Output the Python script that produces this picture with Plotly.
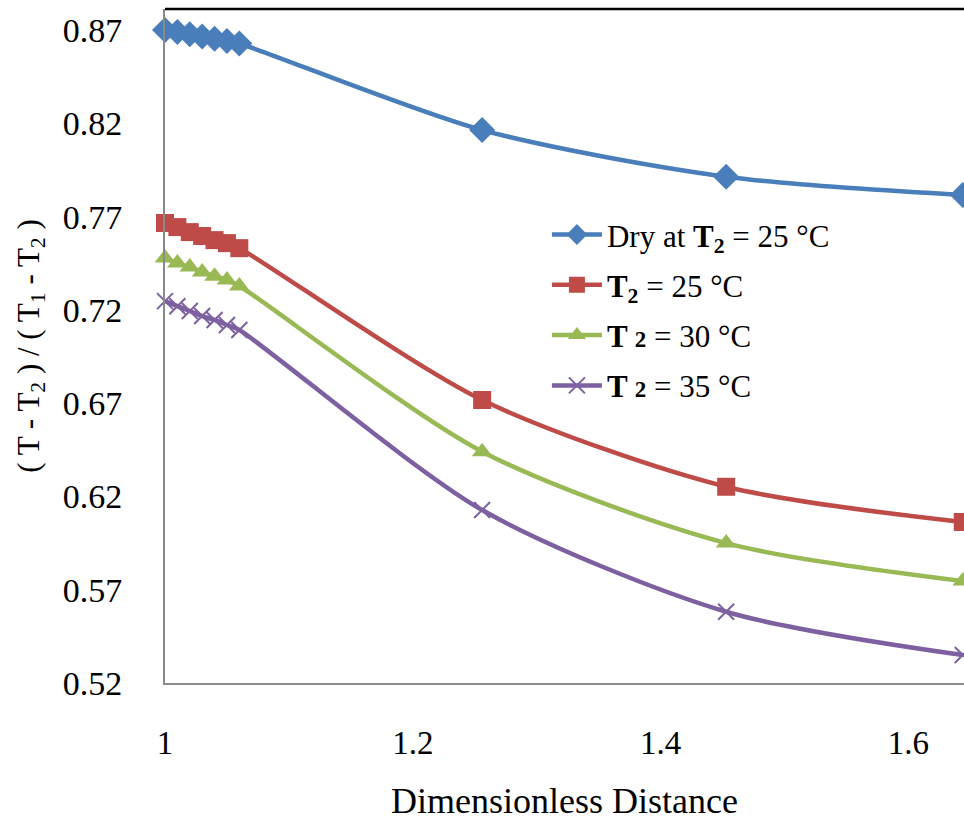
import plotly.graph_objects as go

# dimensionless distance (x) and temperature ratio for each case
x_vals = [1.00, 1.01, 1.02, 1.03, 1.04, 1.05, 1.06, 1.256, 1.453, 1.644]

dry_25 = [0.8700, 0.8690, 0.8678, 0.8666, 0.8654, 0.8642, 0.8628, 0.8164, 0.7914, 0.7816]
wet_25 = [0.7666, 0.7644, 0.7617, 0.7596, 0.7574, 0.7558, 0.7531, 0.6717, 0.6252, 0.6063]
wet_30 = [0.7478, 0.7451, 0.7430, 0.7403, 0.7381, 0.7360, 0.7328, 0.6440, 0.5950, 0.5747]
wet_35 = [0.7247, 0.7220, 0.7194, 0.7167, 0.7146, 0.7119, 0.7092, 0.6127, 0.5582, 0.5350]

names = [
    "Dry at <b>T</b><sub><b>2</b></sub> = 25 °C",
    "<b>T</b><sub><b>2</b></sub> = 25 °C",
    "<b>T <span style='font-size:23px'>2</span></b> = 30 °C",
    "<b>T <span style='font-size:23px'>2</span></b> = 35 °C",
]
colors = ["#4A7EBB", "#BE4B48", "#98B954", "#7D60A0"]
symbols = ["diamond", "square", "triangle-up", "x-thin"]
sizes = [20, 18, 18, 16]

fig = go.Figure()
for i, ys in enumerate([dry_25, wet_25, wet_30, wet_35]):
    marker = dict(symbol=symbols[i], size=sizes[i], color=colors[i])
    if symbols[i] == "x-thin":
        marker["line"] = dict(color=colors[i], width=2)
    fig.add_trace(
        go.Scatter(
            x=x_vals,
            y=ys,
            name=names[i],
            mode="lines+markers",
            line=dict(color=colors[i], width=4.5, shape="spline", smoothing=0.8),
            marker=marker,
            legendgroup=str(i),
            cliponaxis=False,
        )
    )

# black top border of the plot area
fig.add_shape(
    type="line", xref="paper", yref="paper", x0=0, x1=1, y0=1, y1=1,
    line=dict(color="black", width=2.5),
)

fig.update_layout(
    width=964,
    height=821,
    margin=dict(l=165, r=0, t=9, b=138),
    paper_bgcolor="white",
    plot_bgcolor="white",
    font=dict(family="Liberation Serif", color="black", size=32),
    legend=dict(
        x=0.478,
        y=0.705,
        xanchor="left",
        yanchor="top",
        bgcolor="rgba(0,0,0,0)",
        font=dict(size=31, family="Liberation Serif", color="black"),
        tracegroupgap=7,
        itemwidth=50,
    ),
)
fig.update_xaxes(
    range=[1, 1.645],
    tickvals=[1, 1.2, 1.4, 1.6],
    ticktext=["1", "1.2", "1.4", "1.6"],
    showgrid=False,
    zeroline=False,
    showline=True,
    linecolor="#8A8A8A",
    linewidth=2,
    ticks="",
    ticklabelstandoff=29,
    tickfont=dict(size=33),
    title=dict(text="Dimensionless Distance", font=dict(size=36), standoff=30),
)
fig.update_yaxes(
    range=[0.52, 0.8813],
    tick0=0.52,
    dtick=0.05,
    tickformat=".2f",
    showgrid=False,
    zeroline=False,
    showline=True,
    linecolor="#8A8A8A",
    linewidth=2,
    ticks="",
    ticklabelstandoff=34,
    tickfont=dict(size=34),
    title=dict(
        text="( T - T<sub>2</sub> ) / ( T<sub>1</sub> - T<sub>2</sub> )",
        font=dict(size=31),
        standoff=14,
    ),
)

fig.write_html(
    "out.html",
    config={"displayModeBar": False},
    post_script="document.body.style.margin='0';document.body.style.overflow='hidden';",
)
